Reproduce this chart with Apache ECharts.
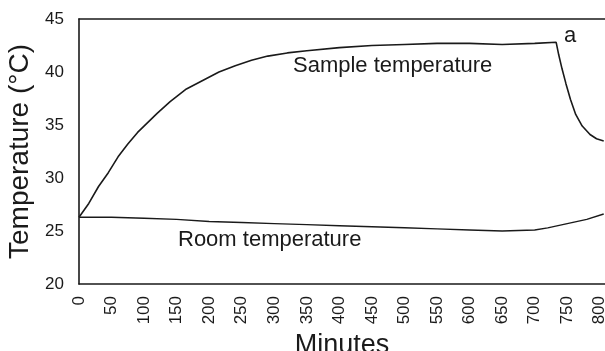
<!DOCTYPE html>
<html>
<head>
<meta charset="utf-8">
<script src="https://cdn.jsdelivr.net/npm/echarts@6/dist/echarts.min.js"></script>
<style>
  html, body { margin: 0; padding: 0; background: #fff; }
  #chart { width: 605px; height: 351px; }
</style>
</head>
<body>
<div id="chart"></div>
<script>
// sample temperature (minutes / degC)
var sampleMinutes = [0, 15, 30, 45, 60, 75, 90, 105, 120, 140, 165, 190, 215, 240, 265, 290, 320, 350, 400, 450, 500, 550, 600, 650, 700, 733, 737, 742, 748, 755, 763, 773, 785, 795, 806];
var sampleTemp    = [26.3, 27.6, 29.2, 30.5, 32.0, 33.2, 34.3, 35.2, 36.1, 37.2, 38.4, 39.2, 40.0, 40.6, 41.1, 41.5, 41.8, 42.0, 42.3, 42.5, 42.6, 42.7, 42.7, 42.6, 42.7, 42.8, 41.6, 40.3, 38.9, 37.4, 36.0, 34.9, 34.1, 33.7, 33.5];

// room temperature
var roomMinutes = [0, 50, 100, 150, 200, 250, 300, 350, 400, 450, 500, 550, 600, 650, 700, 720, 750, 780, 806];
var roomTemp    = [26.3, 26.3, 26.2, 26.1, 25.9, 25.8, 25.7, 25.6, 25.5, 25.4, 25.3, 25.2, 25.1, 25.0, 25.1, 25.3, 25.7, 26.1, 26.6];

var yTicks = [20, 25, 30, 35, 40, 45];

function pairs(xs, ys) {
  var out = [];
  for (var i = 0; i < xs.length; i++) out.push([xs[i], ys[i]]);
  return out;
}

var font = 'Liberation Sans, Arial, sans-serif';
var ink = '#1a1a1a';

var chart = echarts.init(document.getElementById('chart'));

var option = {
  animation: false,
  backgroundColor: '#fff',
  grid: { left: 79, right: 0, top: 19, bottom: 67, outerBoundsMode: 'none', containLabel: false },
  xAxis: [
    {
      type: 'value',
      min: 0,
      max: 808,
      interval: 50,
      name: 'Minutes',
      nameLocation: 'middle',
      nameGap: 42,
      nameTextStyle: { fontFamily: font, fontSize: 27, color: ink },
      axisLine: { show: true, lineStyle: { color: ink, width: 1.6 } },
      axisTick: { show: false },
      splitLine: { show: false },
      axisLabel: {
        rotate: 90,
        margin: 12,
        fontFamily: font,
        fontSize: 17,
        color: ink,
        formatter: function (v) { return v % 50 === 0 ? String(v) : ''; }
      }
    },
    {
      type: 'value',
      position: 'top',
      min: 0,
      max: 808,
      axisLine: { show: true, lineStyle: { color: ink, width: 1.6 } },
      axisTick: { show: false },
      axisLabel: { show: false },
      splitLine: { show: false }
    }
  ],
  yAxis: {
    type: 'value',
    min: yTicks[0],
    max: yTicks[yTicks.length - 1],
    interval: 5,
    name: 'Temperature (\u00B0C)',
    nameLocation: 'middle',
    nameGap: 42,
    nameTextStyle: { fontFamily: font, fontSize: 28, color: ink },
    axisLine: { show: true, lineStyle: { color: ink, width: 1.6 } },
    axisTick: { show: false },
    splitLine: { show: false },
    axisLabel: { margin: 15, fontFamily: font, fontSize: 17, color: ink }
  },
  series: [
    {
      name: 'Sample temperature',
      type: 'line',
      showSymbol: false,
      lineStyle: { color: ink, width: 1.6 },
      data: pairs(sampleMinutes, sampleTemp)
    },
    {
      name: 'Room temperature',
      type: 'line',
      showSymbol: false,
      lineStyle: { color: ink, width: 1.4 },
      data: pairs(roomMinutes, roomTemp)
    }
  ],
  graphic: [
    { type: 'text', left: 293, top: 55, style: { text: 'Sample temperature', font: '22px ' + font, fill: ink } },
    { type: 'text', left: 178, top: 229, style: { text: 'Room temperature', font: '22px ' + font, fill: ink } },
    { type: 'text', left: 564, top: 25, style: { text: 'a', font: '22px ' + font, fill: ink } }
  ]
};

chart.setOption(option);
</script>
</body>
</html>
